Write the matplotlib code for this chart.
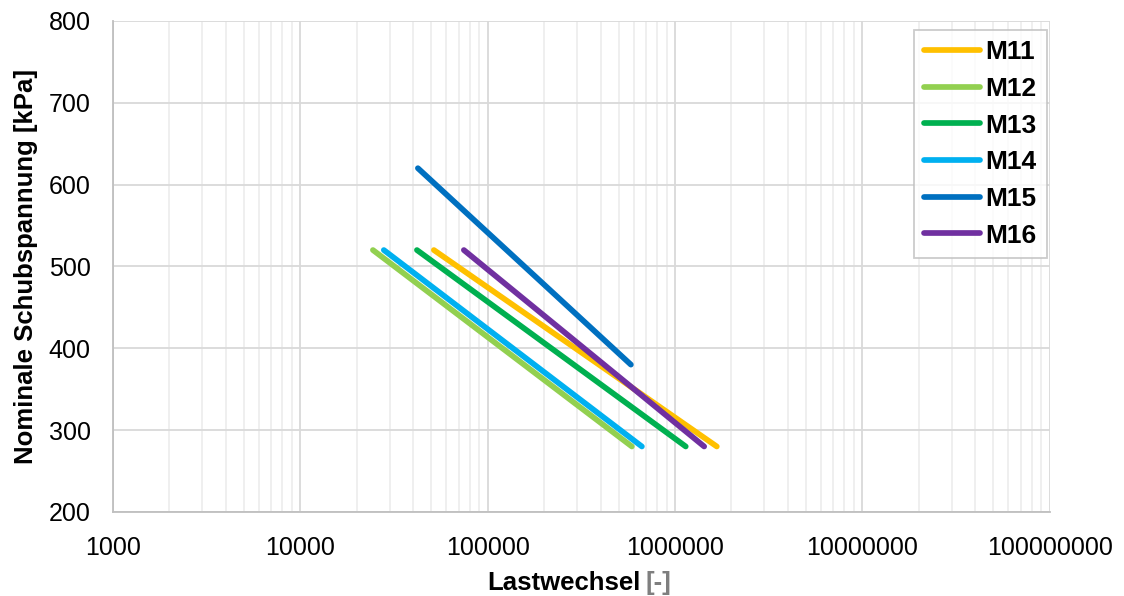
import matplotlib
matplotlib.use("Agg")
import matplotlib.pyplot as plt
from matplotlib.ticker import LogLocator, NullFormatter

plt.rcParams['font.family'] = ['Liberation Sans', 'DejaVu Sans']

# Data: start (upper) and end (lower) load cycles per specimen
names = ['M11', 'M12', 'M13', 'M14', 'M15', 'M16']
colors = ['#FFC000', '#92D050', '#00B050', '#00B0F0', '#0070C0', '#7030A0']
n_start = [51600, 24400, 41900, 27900, 42400, 74600]
n_end = [1670000, 588000, 1140000, 665000, 581000, 1430000]
tau_start = [520, 520, 520, 520, 620, 520]
tau_end = [280, 280, 280, 280, 380, 280]

fig = plt.figure(figsize=(11.24, 5.96), dpi=100)
ax = fig.add_axes([0.1005, 0.141, 0.8335, 0.824])

for name, c, x0, x1, y0, y1 in zip(names, colors, n_start, n_end, tau_start, tau_end):
    ax.plot([x0, x1], [y0, y1], color=c, lw=4.1, solid_capstyle='round', label=name)

ax.set_xscale('log')
ax.set_xlim(1000, 1e8)
ax.set_ylim(200, 800)
ax.set_yticks(range(200, 801, 100))
ax.set_xticks([1e3, 1e4, 1e5, 1e6, 1e7, 1e8])
ax.set_xticklabels(['1000', '10000', '100000', '1000000', '10000000', '100000000'])
ax.xaxis.set_minor_locator(LogLocator(base=10, subs=range(2, 10), numticks=20))
ax.xaxis.set_minor_formatter(NullFormatter())

ax.grid(which='major', color='#d9d9d9', lw=1.3)
ax.grid(which='minor', axis='x', color='#eeeeee', lw=1.3)
ax.set_axisbelow(True)
for s in ['top', 'right']:
    ax.spines[s].set_visible(False)
for s in ['left', 'bottom']:
    ax.spines[s].set_color('#bfbfbf')
    ax.spines[s].set_linewidth(1.3)
ax.tick_params(which='both', length=0, labelsize=18)
ax.tick_params(axis='y', pad=16)
ax.tick_params(axis='x', pad=17)

ax.set_ylabel('Nominale Schubspannung [kPa]', fontsize=18.5, fontweight='bold', labelpad=8)
ax.set_xlabel('Lastwechsel', fontsize=18.5, fontweight='bold', labelpad=8)
ax.xaxis.label.set_position((0.481, 0))
ax.annotate('[-]', xy=(1, 0), xycoords=ax.xaxis.label, xytext=(4, 0),
            textcoords='offset points', va='bottom', ha='left',
            fontsize=18.5, fontweight='bold', color='#7f7f7f')

leg = ax.legend(loc='upper right', bbox_to_anchor=(0.9968, 0.9817), borderaxespad=0,
                prop={'weight': 'bold', 'size': 19}, fancybox=False, edgecolor='#bfbfbf',
                handlelength=2.1, labelspacing=0.48, borderpad=0.4, handletextpad=0.2)
leg.get_frame().set_linewidth(1.3)

fig.savefig('out.png', dpi=100)
